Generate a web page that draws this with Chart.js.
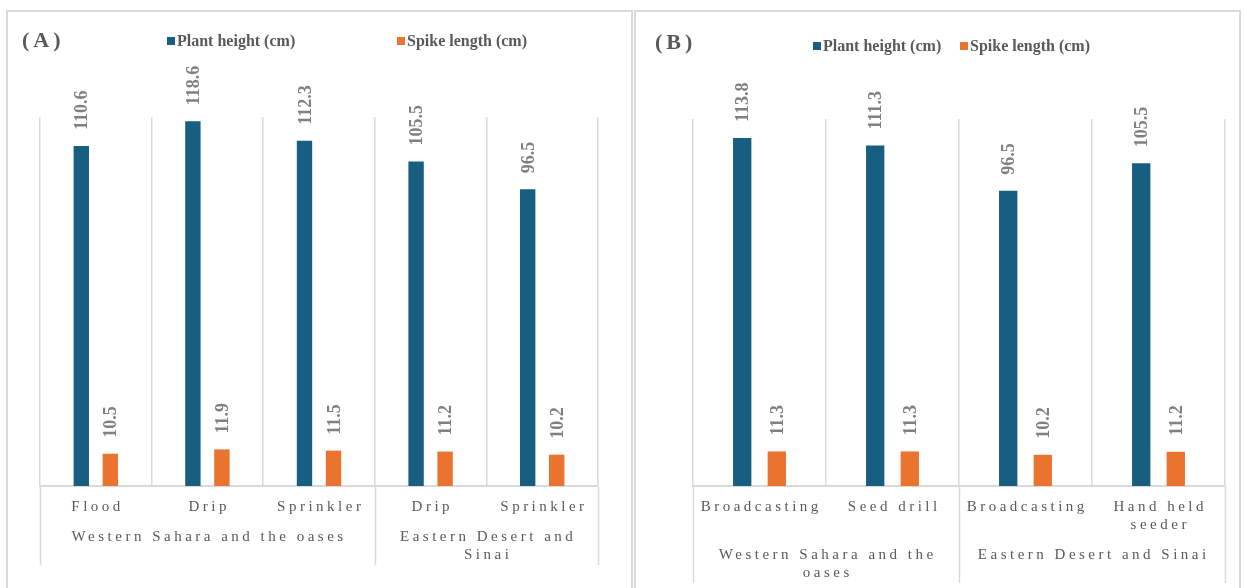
<!DOCTYPE html>
<html>
<head>
<meta charset="utf-8">
<script src="https://cdn.jsdelivr.net/npm/chart.js@4.4.1/dist/chart.umd.min.js"></script>
<style>
  html, body { margin: 0; padding: 0; background: #fff; width: 1244px; height: 588px; overflow: hidden; }
  .panel { position: absolute; top: 10px; height: 600px; border: 2px solid #d9d9d9; box-sizing: border-box; }
  #panelA { left: 6px; width: 627px; }
  #panelB { left: 634px; width: 607px; }
  canvas { position: absolute; left: 0; top: 0; }
</style>
</head>
<body>
<div class="panel" id="panelA"></div>
<div class="panel" id="panelB"></div>
<canvas id="chartA" width="1244" height="588"></canvas>
<canvas id="chartB" width="1244" height="588"></canvas>
<script>
// Panel A: irrigation method by region
const categoriesA = ['Flood', 'Drip', 'Sprinkler', 'Drip', 'Sprinkler'];
const regionsA = [['Western Sahara and the oases'], ['Eastern Desert and', 'Sinai']];
const regionSpansA = [3, 2];
const plantHeightA = [110.6, 118.6, 112.3, 105.5, 96.5];
const spikeLengthA = [10.5, 11.9, 11.5, 11.2, 10.2];

// Panel B: sowing method by region
const categoriesB = [['Broadcasting'], ['Seed drill'], ['Broadcasting'], ['Hand held', 'seeder']];
const regionsB = [['Western Sahara and the', 'oases'], ['Eastern Desert and Sinai']];
const regionSpansB = [2, 2];
const plantHeightB = [113.8, 111.3, 96.5, 105.5];
const spikeLengthB = [11.3, 11.3, 10.2, 11.2];

const seriesNames = ['Plant height (cm)', 'Spike length (cm)'];
const seriesColors = ['#175e80', '#ea7330'];
const panelTitles = ['(A)', '(B)'];

const SERIF = '"Liberation Serif", "Times New Roman", serif';
const GRID = '#d9d9d9';

// width of text drawn with canvas letter spacing (minus the trailing gap)
function spacedWidth(ctx, text, ls) {
  ctx.letterSpacing = ls + 'px';
  return ctx.measureText(text).width - ls;
}
function drawCentered(ctx, text, cx, y, ls) {
  const w = spacedWidth(ctx, text, ls);
  ctx.textAlign = 'left';
  ctx.fillText(text, cx - w / 2, y);
}

const panelDecor = {
  id: 'panelDecor',
  afterDatasetsDraw(chart, args, opts) {
    const ctx = chart.ctx;
    const area = chart.chartArea;
    const xs = chart.scales.x;
    const half = (xs.getPixelForValue(1) - xs.getPixelForValue(0)) / 2;

    // value labels, rotated, above each bar
    ctx.save();
    ctx.font = 'bold 18px ' + SERIF;
    ctx.fillStyle = '#808080';
    ctx.letterSpacing = '0px';
    chart.data.datasets.forEach((ds, di) => {
      chart.getDatasetMeta(di).data.forEach((bar, i) => {
        ctx.save();
        ctx.translate(bar.x + 1.5, bar.y - 16);
        ctx.rotate(-Math.PI / 2);
        ctx.textAlign = 'left';
        ctx.textBaseline = 'middle';
        ctx.fillText(ds.data[i].toFixed(1), 0, 0);
        ctx.restore();
      });
    });
    ctx.restore();

    // category labels (first level)
    ctx.save();
    ctx.font = '15px ' + SERIF;
    ctx.fillStyle = '#595959';
    ctx.textBaseline = 'middle';
    const lh = 18;
    const y1 = area.bottom + 21;
    let maxLines = 1;
    chart.data.labels.forEach((lab, i) => {
      const lines = Array.isArray(lab) ? lab : [lab];
      maxLines = Math.max(maxLines, lines.length);
      lines.forEach((t, k) => drawCentered(ctx, t, xs.getPixelForValue(i), y1 + k * lh, 3.5));
    });

    // region labels (second level) and separators
    const y2 = y1 + (maxLines - 1) * lh + 30;
    let maxLines2 = 1;
    opts.regions.forEach(r => { maxLines2 = Math.max(maxLines2, r.length); });
    const yEnd = y2 + (maxLines2 - 1) * lh + 10;
    let start = 0;
    const bounds = [];
    opts.regions.forEach((r, g) => {
      const s = start, e = start + opts.spans[g] - 1;
      const left = xs.getPixelForValue(s) - half;
      const right = xs.getPixelForValue(e) + half;
      bounds.push(left);
      if (g === opts.regions.length - 1) bounds.push(right);
      r.forEach((t, k) => drawCentered(ctx, t, (left + right) / 2, y2 + k * lh, 3.5));
      start += opts.spans[g];
    });
    ctx.strokeStyle = GRID;
    ctx.lineWidth = 1.5;
    bounds.forEach(bx => {
      ctx.beginPath();
      ctx.moveTo(Math.round(bx) + 0.5, area.bottom);
      ctx.lineTo(Math.round(bx) + 0.5, yEnd);
      ctx.stroke();
    });
    ctx.restore();

    // panel letter
    ctx.save();
    ctx.font = 'bold 22px ' + SERIF;
    ctx.fillStyle = '#595959';
    ctx.textBaseline = 'middle';
    ctx.letterSpacing = '4px';
    ctx.textAlign = 'left';
    ctx.fillText(opts.title, opts.titleX, opts.titleY);
    ctx.restore();

    // legend
    ctx.save();
    ctx.font = 'bold 16px ' + SERIF;
    ctx.textBaseline = 'middle';
    ctx.letterSpacing = '0px';
    ctx.textAlign = 'left';
    chart.data.datasets.forEach((ds, di) => {
      const lx = opts.legendX[di], ly = opts.legendY;
      ctx.fillStyle = ds.backgroundColor;
      ctx.fillRect(lx, ly - 4, 8, 8);
      ctx.fillStyle = '#595959';
      ctx.fillText(ds.label, lx + 10, ly + 1);
    });
    ctx.restore();
  }
};

function makeChart(id, labels, heights, spikes, padding, decor) {
  return new Chart(document.getElementById(id), {
    type: 'bar',
    data: {
      labels: labels,
      datasets: [
        { label: seriesNames[0], data: heights, backgroundColor: seriesColors[0] },
        { label: seriesNames[1], data: spikes, backgroundColor: seriesColors[1] }
      ]
    },
    options: {
      responsive: false,
      animation: false,
      events: [],
      layout: { padding: padding },
      datasets: { bar: { categoryPercentage: 0.52, barPercentage: 0.53, borderWidth: 0 } },
      scales: {
        x: {
          display: true,
          ticks: { display: false },
          grid: { offset: true, color: GRID, lineWidth: 1.5, drawTicks: false },
          border: { display: true, color: GRID, width: 2 }
        },
        y: { display: false, min: 0, max: 120 }
      },
      plugins: {
        legend: { display: false },
        tooltip: { enabled: false },
        panelDecor: decor
      }
    },
    plugins: [panelDecor]
  });
}

makeChart('chartA', categoriesA, plantHeightA, spikeLengthA,
  { left: 40, right: 1244 - 598, top: 117, bottom: 588 - 486 },
  { regions: regionsA, spans: regionSpansA, title: panelTitles[0], titleX: 22, titleY: 41,
    legendX: [167, 397], legendY: 41 });

makeChart('chartB', categoriesB, plantHeightB, spikeLengthB,
  { left: 693, right: 1244 - 1225, top: 119, bottom: 588 - 486 },
  { regions: regionsB, spans: regionSpansB, title: panelTitles[1], titleX: 655, titleY: 43,
    legendX: [813, 960], legendY: 46 });
</script>
</body>
</html>
